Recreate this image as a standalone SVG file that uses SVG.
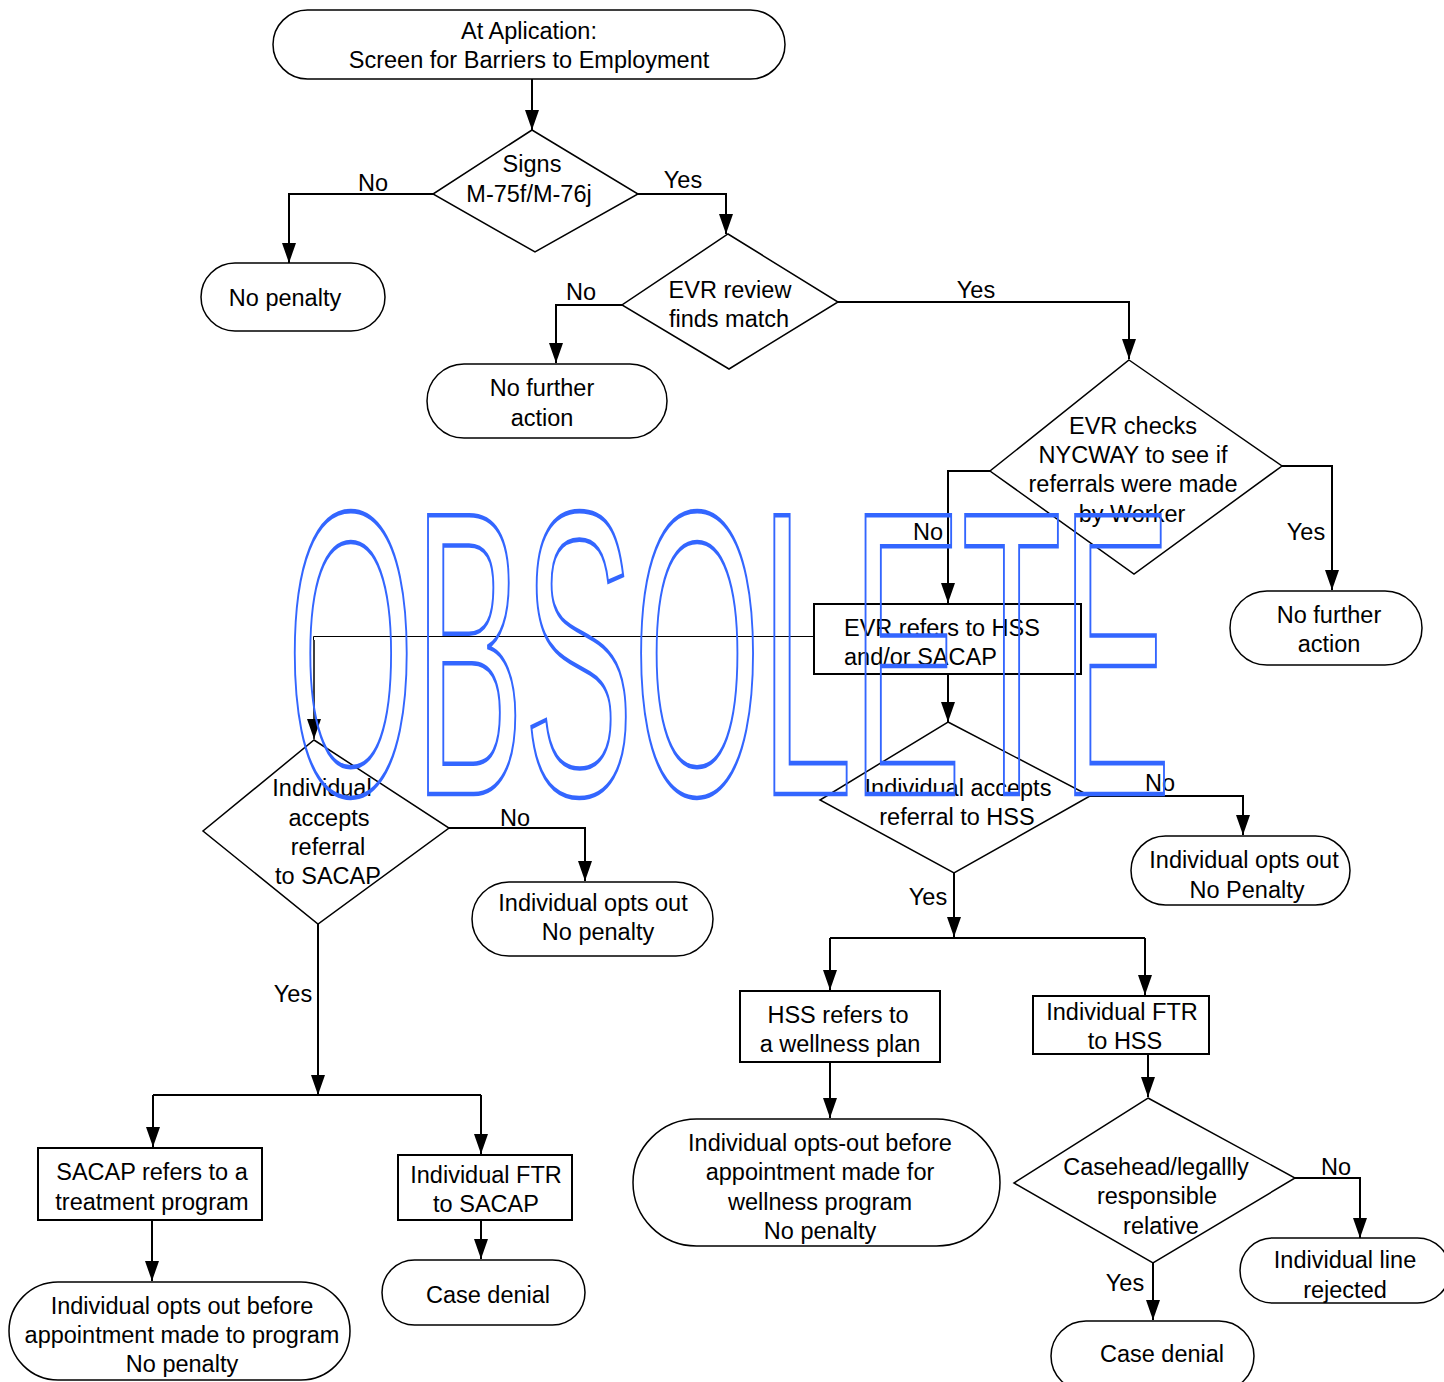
<svg xmlns="http://www.w3.org/2000/svg" width="1444" height="1382" viewBox="0 0 1444 1382">
<defs>
<marker id="ah" markerUnits="userSpaceOnUse" markerWidth="20" markerHeight="14" refX="20" refY="7" orient="auto">
<path d="M0,0 L20,7 L0,14 z" fill="#000"/>
</marker>
<style>
.t{font-family:"Liberation Sans",Arial,sans-serif;font-size:23.5px;fill:#000;text-anchor:middle}
.ts{font-family:"Liberation Sans",Arial,sans-serif;font-size:23.5px;fill:#000}
.s{fill:#fff;stroke:#000;stroke-width:1.5}
.b{fill:#fff;stroke:#000;stroke-width:2}
.c{fill:none;stroke:#000;stroke-width:2}
.ca{fill:none;stroke:#000;stroke-width:2;marker-end:url(#ah)}
.wm{font-family:"Liberation Sans",Arial,sans-serif;font-size:164px;fill:none;stroke:#3366ff;stroke-width:3.5;vector-effect:non-scaling-stroke}
</style>
</defs>
<rect width="1444" height="1382" fill="#fff"/>

<g id="connectors">
<path class="ca" d="M532,79 V130"/>
<path class="ca" d="M433,194 H289 V263"/>
<path class="ca" d="M638,194 H726 V234"/>
<path class="ca" d="M622,305 H556 V363"/>
<path class="ca" d="M838,302 H1129 V359"/>
<path class="ca" d="M1282,466 H1332 V590"/>
<path class="ca" d="M990,471 H948 V603"/>
<path fill="none" stroke="#000" stroke-width="1" d="M814,636.5 H313.5 V640"/>
<path fill="none" stroke="#000" stroke-width="1.5" d="M314,640 V739" marker-end="url(#ah)"/>
<path class="ca" d="M948,674 V722"/>
<path class="ca" d="M1090,796 H1243 V835"/>
<path class="ca" d="M954,873 V937"/>
<path class="c" d="M830,938 H1145"/>
<path class="ca" d="M830,938 V990"/>
<path class="ca" d="M1145,938 V995"/>
<path class="ca" d="M830,1062 V1118"/>
<path class="ca" d="M1148,1054 V1097"/>
<path class="ca" d="M1295,1178 H1360 V1238"/>
<path class="ca" d="M1153,1263 V1320"/>
<path class="ca" d="M449,828 H585 V881"/>
<path class="ca" d="M318,924 V1095"/>
<path class="c" d="M153,1095 H481"/>
<path class="ca" d="M153,1095 V1147"/>
<path class="ca" d="M481,1095 V1154"/>
<path class="ca" d="M152,1220 V1281"/>
<path class="ca" d="M481,1220 V1259"/>
</g>

<g id="labels">
<text class="t" x="373" y="191">No</text>
<text class="t" x="683" y="188">Yes</text>
<text class="t" x="581" y="300">No</text>
<text class="t" x="976" y="298">Yes</text>
<text class="t" x="1306" y="540">Yes</text>
<text class="t" x="928" y="540">No</text>
<text class="t" x="1160" y="791">No</text>
<text class="t" x="928" y="905">Yes</text>
<text class="t" x="1336" y="1175">No</text>
<text class="t" x="1125" y="1291">Yes</text>
<text class="t" x="515" y="826">No</text>
<text class="t" x="293" y="1002">Yes</text>
</g>

<g id="n-start">
<rect class="s" x="273" y="10" width="512" height="69" rx="34.5"/>
<text class="t" x="529" y="39">At Aplication:</text>
<text class="t" x="529" y="68">Screen for Barriers to Employment</text>
</g>

<g id="n-signs">
<polygon class="s" points="532,130 638,194 535,252 433,194"/>
<text class="t" x="532" y="172">Signs</text>
<text class="t" x="529" y="202">M-75f/M-76j</text>
</g>

<g id="n-nopenalty1">
<rect class="s" x="201" y="263" width="184" height="68" rx="34"/>
<text class="t" x="285" y="306">No penalty</text>
</g>

<g id="n-evrreview">
<polygon class="s" points="728,234 838,302 729,369 622,305"/>
<text class="t" x="730" y="298">EVR review</text>
<text class="t" x="729" y="327">finds match</text>
</g>

<g id="n-nofurther1">
<rect class="s" x="427" y="364" width="240" height="74" rx="37"/>
<text class="t" x="542" y="396">No further</text>
<text class="t" x="542" y="426">action</text>
</g>

<g id="n-evrchecks">
<polygon class="s" points="1129,360 1282,466 1134,574 990,471"/>
<text class="t" x="1133" y="434">EVR checks</text>
<text class="t" x="1133" y="463">NYCWAY to see if</text>
<text class="t" x="1133" y="492">referrals were made</text>
<text class="t" x="1132" y="522">by Worker</text>
</g>

<g id="n-nofurther2">
<rect class="s" x="1230" y="591" width="192" height="74" rx="37"/>
<text class="t" x="1329" y="623">No further</text>
<text class="t" x="1329" y="652">action</text>
</g>

<g id="n-evrrefers">
<rect class="b" x="814" y="604" width="267" height="70"/>
<text class="ts" x="844" y="636">EVR refers to HSS</text>
<text class="ts" x="844" y="665">and/or SACAP</text>
</g>

<g id="n-accepthss">
<polygon class="s" points="948,722 1090,796 954,873 820,800"/>
<text class="t" x="958" y="796">Individual accepts</text>
<text class="t" x="957" y="825">referral to HSS</text>
</g>

<g id="n-optsout-hss">
<rect class="s" x="1131" y="836" width="219" height="69" rx="34.5"/>
<text class="t" x="1244" y="868">Individual opts out</text>
<text class="t" x="1247" y="898">No Penalty</text>
</g>

<g id="n-hsswellness">
<rect class="b" x="740" y="991" width="200" height="71"/>
<text class="t" x="838" y="1023">HSS refers to</text>
<text class="t" x="840" y="1052">a wellness plan</text>
</g>

<g id="n-optsout-wellness">
<rect class="s" x="633" y="1119" width="367" height="127" rx="63.5"/>
<text class="t" x="820" y="1151">Individual opts-out before</text>
<text class="t" x="820" y="1180">appointment made for</text>
<text class="t" x="820" y="1210">wellness program</text>
<text class="t" x="820" y="1239">No penalty</text>
</g>

<g id="n-ftrhss">
<rect class="b" x="1033" y="996" width="176" height="58"/>
<text class="t" x="1122" y="1020">Individual FTR</text>
<text class="t" x="1125" y="1049">to HSS</text>
</g>

<g id="n-casehead">
<polygon class="s" points="1148,1098 1295,1178 1153,1263 1014,1183"/>
<text class="t" x="1156" y="1175">Casehead/legallly</text>
<text class="t" x="1157" y="1204">responsible</text>
<text class="t" x="1161" y="1234">relative</text>
</g>

<g id="n-linerejected">
<rect class="s" x="1240" y="1238" width="210" height="65" rx="32.5"/>
<text class="t" x="1345" y="1268">Individual line</text>
<text class="t" x="1345" y="1298">rejected</text>
</g>

<g id="n-casedenial2">
<rect class="s" x="1051" y="1321" width="203" height="70" rx="35"/>
<text class="t" x="1162" y="1362">Case denial</text>
</g>

<g id="n-acceptsacap">
<polygon class="s" points="314,740 449,828 318,924 203,831"/>
<text class="t" x="322" y="796">Individual</text>
<text class="t" x="329" y="826">accepts</text>
<text class="t" x="328" y="855">referral</text>
<text class="t" x="328" y="884">to SACAP</text>
</g>

<g id="n-optsout-sacap">
<rect class="s" x="472" y="882" width="241" height="74" rx="37"/>
<text class="t" x="593" y="911">Individual opts out</text>
<text class="t" x="598" y="940">No penalty</text>
</g>

<g id="n-sacaptreatment">
<rect class="b" x="38" y="1148" width="224" height="72"/>
<text class="t" x="152" y="1180">SACAP refers to a</text>
<text class="t" x="152" y="1210">treatment program</text>
</g>

<g id="n-optsout-program">
<rect class="s" x="9" y="1282" width="341" height="98" rx="49"/>
<text class="t" x="182" y="1314">Individual opts out before</text>
<text class="t" x="182" y="1343">appointment made to program</text>
<text class="t" x="182" y="1372">No penalty</text>
</g>

<g id="n-ftrsacap">
<rect class="b" x="398" y="1155" width="174" height="65"/>
<text class="t" x="486" y="1183">Individual FTR</text>
<text class="t" x="486" y="1212">to SACAP</text>
</g>

<g id="n-casedenial1">
<rect class="s" x="382" y="1260" width="203" height="65" rx="32.5"/>
<text class="t" x="488" y="1303">Case denial</text>
</g>

<g id="watermark">
<text class="wm" transform="translate(287,794) scale(1,2.47)" x="0" y="0">OBSOLETE</text>
</g>
</svg>
